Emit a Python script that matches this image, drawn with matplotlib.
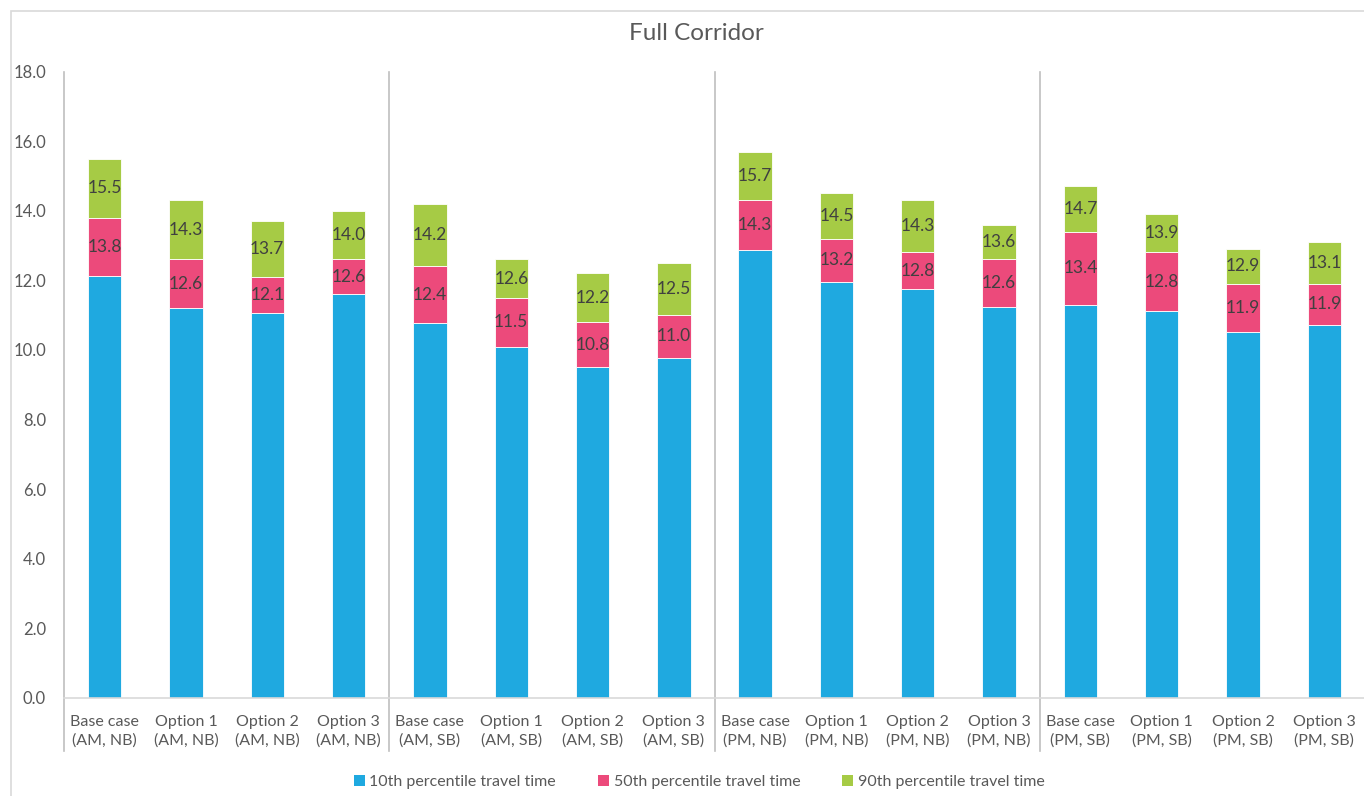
import matplotlib
matplotlib.use("Agg")
import matplotlib.pyplot as plt
from matplotlib.patches import Rectangle, Patch
import matplotlib.transforms as mtransforms
import numpy as np

plt.rcParams['font.family'] = ['Lato', 'DejaVu Sans']

# categories and series
categories = [
    "Base case\n(AM, NB)", "Option 1\n(AM, NB)", "Option 2\n(AM, NB)", "Option 3\n(AM, NB)",
    "Base case\n(AM, SB)", "Option 1\n(AM, SB)", "Option 2\n(AM, SB)", "Option 3\n(AM, SB)",
    "Base case\n(PM, NB)", "Option 1\n(PM, NB)", "Option 2\n(PM, NB)", "Option 3\n(PM, NB)",
    "Base case\n(PM, SB)", "Option 1\n(PM, SB)", "Option 2\n(PM, SB)", "Option 3\n(PM, SB)",
]
p10 = [12.12, 11.21, 11.07, 11.61, 10.78, 10.09, 9.51, 9.78,
       12.87, 11.96, 11.75, 11.23, 11.30, 11.11, 10.52, 10.72]
p50 = [13.8, 12.6, 12.1, 12.6, 12.4, 11.5, 10.8, 11.0,
       14.3, 13.2, 12.8, 12.6, 13.4, 12.8, 11.9, 11.9]
p90 = [15.5, 14.3, 13.7, 14.0, 14.2, 12.6, 12.2, 12.5,
       15.7, 14.5, 14.3, 13.6, 14.7, 13.9, 12.9, 13.1]
series_names = ["10th percentile travel time", "50th percentile travel time",
                "90th percentile travel time"]

blue = "#1FA9E0"
pink = "#EC4A7B"
green = "#A6CB45"
label_col = "#404040"
tick_col = "#595959"
line_col = "#BFBFBF"

fig = plt.figure(figsize=(13.64, 7.96), dpi=100)
W, H = 1364, 796
ax = fig.add_axes([64 / W, 1 - 698 / H, (1365 - 64) / W, (698 - 71.5) / H])

x = np.arange(len(categories))
b10 = np.array(p10)
b50 = np.array(p50) - b10
b90 = np.array(p90) - np.array(p50)
bw = 0.41
ax.bar(x, b10, bw, color=blue, edgecolor="white", linewidth=0.6)
ax.bar(x, b50, bw, bottom=b10, color=pink, edgecolor="white", linewidth=0.6)
ax.bar(x, b90, bw, bottom=p50, color=green, edgecolor="white", linewidth=0.6)

for i in range(len(x)):
    ax.text(x[i], p10[i] + b50[i] / 2, f"{p50[i]:.1f}", ha="center", va="center",
            fontsize=12.5, color=label_col)
    ax.text(x[i], p50[i] + b90[i] / 2, f"{p90[i]:.1f}", ha="center", va="center",
            fontsize=12.5, color=label_col)

ax.set_xlim(-0.5, 15.5)
ax.set_ylim(0, 18)
ax.set_yticks(np.arange(0, 18.1, 2))
ax.set_yticklabels([f"{v:.1f}" for v in np.arange(0, 18.1, 2)])
ax.set_xticks(x)
ax.set_xticklabels(categories, linespacing=1.45)
ax.tick_params(axis="y", length=0, labelsize=12, labelcolor=tick_col, pad=13)
ax.tick_params(axis="x", length=0, labelsize=11.5, labelcolor=tick_col, pad=12)

for s in ["top", "right", "left"]:
    ax.spines[s].set_visible(False)
ax.spines["bottom"].set_color("#D9D9D9")
ax.spines["bottom"].set_linewidth(1.2)

# group separators, running down through the label area
trans = mtransforms.blended_transform_factory(ax.transData, ax.transAxes)
for xd in [-0.5, 3.5, 7.5, 11.5]:
    ax.plot([xd, xd], [1.0, -0.085], transform=trans, color=line_col,
            linewidth=1.2, clip_on=False)

fig.text(696 / W, 1 - 33 / H, "Full Corridor", ha="center", va="center",
         fontsize=17.5, color=tick_col)

handles = [Patch(facecolor=c) for c in (blue, pink, green)]
fig.legend(handles, series_names, loc="center", bbox_to_anchor=(699 / W, 1 - 782 / H),
           ncol=3, frameon=False, fontsize=11.5, handlelength=0.7, handleheight=0.7,
           handletextpad=0.3, columnspacing=2.6, labelcolor=tick_col)

# chart border (cropped on the right and bottom)
fig.patches.append(Rectangle((11 / W, -0.1), 1.2, 1.1 - 11 / H, transform=fig.transFigure,
                             fill=False, edgecolor="#D9D9D9", linewidth=1.2))

fig.savefig("out.png", dpi=100)
